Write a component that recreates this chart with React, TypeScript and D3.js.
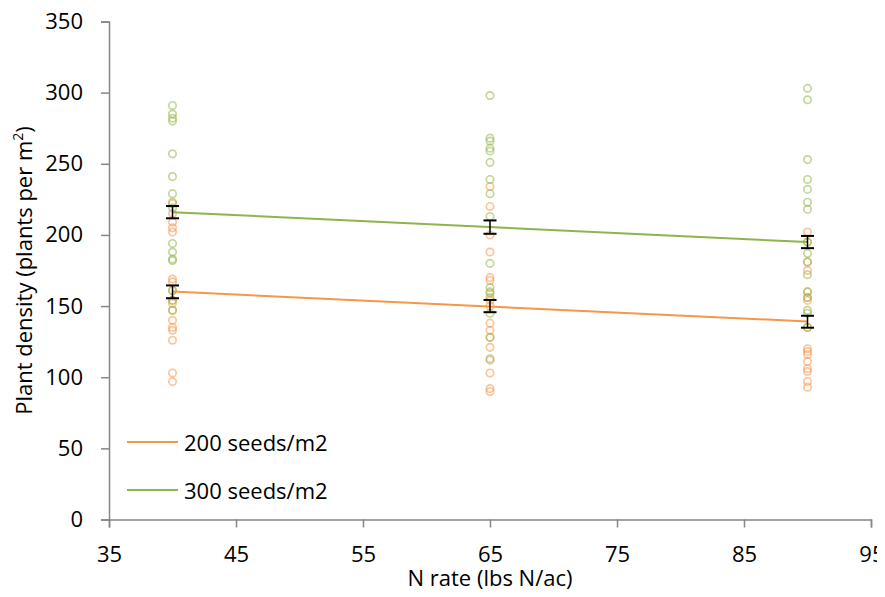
import React, { useEffect, useRef } from 'react';
import * as d3 from 'd3';

// N rates on the x axis
const nRates = [40, 65, 90];
const xTicks = [35, 45, 55, 65, 75, 85, 95];
const yTicks = [0, 50, 100, 150, 200, 250, 300, 350];

// individual plot densities, 200 seeds/m2
const obs200 = [
  [222, 215, 209, 205, 202, 169, 167, 161, 154, 152, 147, 140, 135, 133, 126, 103, 97],
  [234, 220, 200, 188, 170, 168, 159, 154, 150, 138, 133, 128, 121, 112, 103, 92, 90],
  [202, 195, 181, 175, 160, 156, 154, 135, 120, 118, 116, 111, 106, 104, 97, 93],
];
// individual plot densities, 300 seeds/m2
const obs300 = [
  [291, 285, 282, 280, 257, 241, 229, 223, 219, 194, 188, 183, 182, 161, 154, 147],
  [298, 268, 266, 261, 259, 251, 239, 229, 213, 180, 163, 160, 156, 145, 128, 113],
  [303, 295, 253, 239, 232, 223, 218, 195, 187, 181, 172, 160, 156, 147, 145, 135],
];

// treatment means and standard errors
const mean200 = [160, 150, 139];
const se200 = [4.5, 4.3, 4.2];
const mean300 = [216, 205.5, 195];
const se300 = [4.3, 4.7, 4.3];

const seriesNames = ['200 seeds/m2', '300 seeds/m2'];

const W = 885, H = 597;
const margin = { left: 109, right: 14, top: 21.5, bottom: 77.5 };

function App() {
  const ref = useRef<SVGSVGElement | null>(null);

  useEffect(() => {
    const svg = d3.select(ref.current);
    svg.selectAll('*').remove();

    const font = "'Open Sans', sans-serif";
    const x = d3.scaleLinear().domain([35, 95]).range([margin.left, W - margin.right]);
    const y = d3.scaleLinear().domain([0, 350]).range([H - margin.bottom, margin.top]);

    const series = [
      { obs: obs200, mean: mean200, se: se200, line: '#F79646', dot: 'rgba(247,150,70,0.55)' },
      { obs: obs300, mean: mean300, se: se300, line: '#8DB54B', dot: 'rgba(155,187,89,0.6)' },
    ];

    // axes
    const yAxis = svg.append('g')
      .attr('transform', `translate(${margin.left},0)`)
      .call(d3.axisLeft(y).tickValues(yTicks).tickSize(8).tickPadding(18));
    const xAxis = svg.append('g')
      .attr('transform', `translate(0,${H - margin.bottom})`)
      .call(d3.axisBottom(x).tickValues(xTicks).tickSize(8).tickPadding(19));
    [yAxis, xAxis].forEach(a => {
      a.select('.domain').attr('stroke', '#868686').attr('stroke-width', 1.5);
      a.selectAll('.tick line').attr('stroke', '#868686').attr('stroke-width', 1.5);
      a.selectAll('.tick text')
        .attr('fill', '#000')
        .style('font-family', font)
        .style('font-size', '22px');
    });
    // keep the last label inside the picture
    xAxis.selectAll<SVGTextElement, number>('.tick text')
      .filter(d => d === 95)
      .attr('text-anchor', 'end')
      .attr('x', 13);

    // scatter of observations
    series.forEach(s => {
      s.obs.forEach((vals, i) => {
        svg.append('g').selectAll('circle')
          .data(vals)
          .enter()
          .append('circle')
            .attr('cx', x(nRates[i]))
            .attr('cy', d => y(d))
            .attr('r', 3.7)
            .attr('fill', 'none')
            .attr('stroke', s.dot)
            .attr('stroke-width', 1.7);
      });
    });

    // linear trend lines through the means
    series.forEach(s => {
      const mx = d3.mean(nRates)!;
      const my = d3.mean(s.mean)!;
      const slope = d3.sum(nRates, (v, i) => (v - mx) * (s.mean[i] - my)) /
        d3.sum(nRates, v => (v - mx) ** 2);
      const fit = (v: number) => my + slope * (v - mx);
      const ends = [nRates[0], nRates[nRates.length - 1]];
      svg.append('path')
        .datum(ends)
        .attr('d', d3.line<number>().x(d => x(d)).y(d => y(fit(d))))
        .attr('fill', 'none')
        .attr('stroke', s.line)
        .attr('stroke-width', 2);
    });

    // error bars
    series.forEach(s => {
      s.mean.forEach((m, i) => {
        const cx = x(nRates[i]);
        const g = svg.append('g').attr('stroke', '#000').attr('stroke-width', 1.5);
        g.append('line').attr('x1', cx).attr('x2', cx)
          .attr('y1', y(m - s.se[i])).attr('y2', y(m + s.se[i]));
        [m - s.se[i], m + s.se[i]].forEach(v => {
          g.append('line').attr('x1', cx - 6.5).attr('x2', cx + 6.5)
            .attr('y1', y(v)).attr('y2', y(v)).attr('stroke-width', 2);
        });
      });
    });

    // legend
    const legend = svg.append('g');
    seriesNames.forEach((name, i) => {
      const ly = 442 + i * 48;
      legend.append('line')
        .attr('x1', 127).attr('x2', 178).attr('y1', ly).attr('y2', ly)
        .attr('stroke', series[i].line).attr('stroke-width', 2);
      legend.append('text')
        .attr('x', 184).attr('y', ly + 8.5)
        .style('font-family', font).style('font-size', '22px')
        .text(name);
    });

    // axis titles
    svg.append('text')
      .attr('x', (margin.left + W - margin.right) / 2)
      .attr('y', 586)
      .attr('text-anchor', 'middle')
      .style('font-family', font).style('font-size', '22px')
      .text('N rate (lbs N/ac)');

    const yt = svg.append('text')
      .attr('transform', `translate(32,${(margin.top + H - margin.bottom) / 2}) rotate(-90)`)
      .attr('text-anchor', 'middle')
      .style('font-family', font).style('font-size', '22px');
    yt.append('tspan').text('Plant density (plants per m');
    yt.append('tspan').attr('dy', -9).style('font-size', '14px').text('2');
    yt.append('tspan').attr('dy', 9).text(')');
  }, []);

  return (
    <div style={{ margin: -8 }}>
      <svg ref={ref} width={W} height={H} style={{ display: 'block', background: '#fff' }} />
    </div>
  );
}

export default App;
